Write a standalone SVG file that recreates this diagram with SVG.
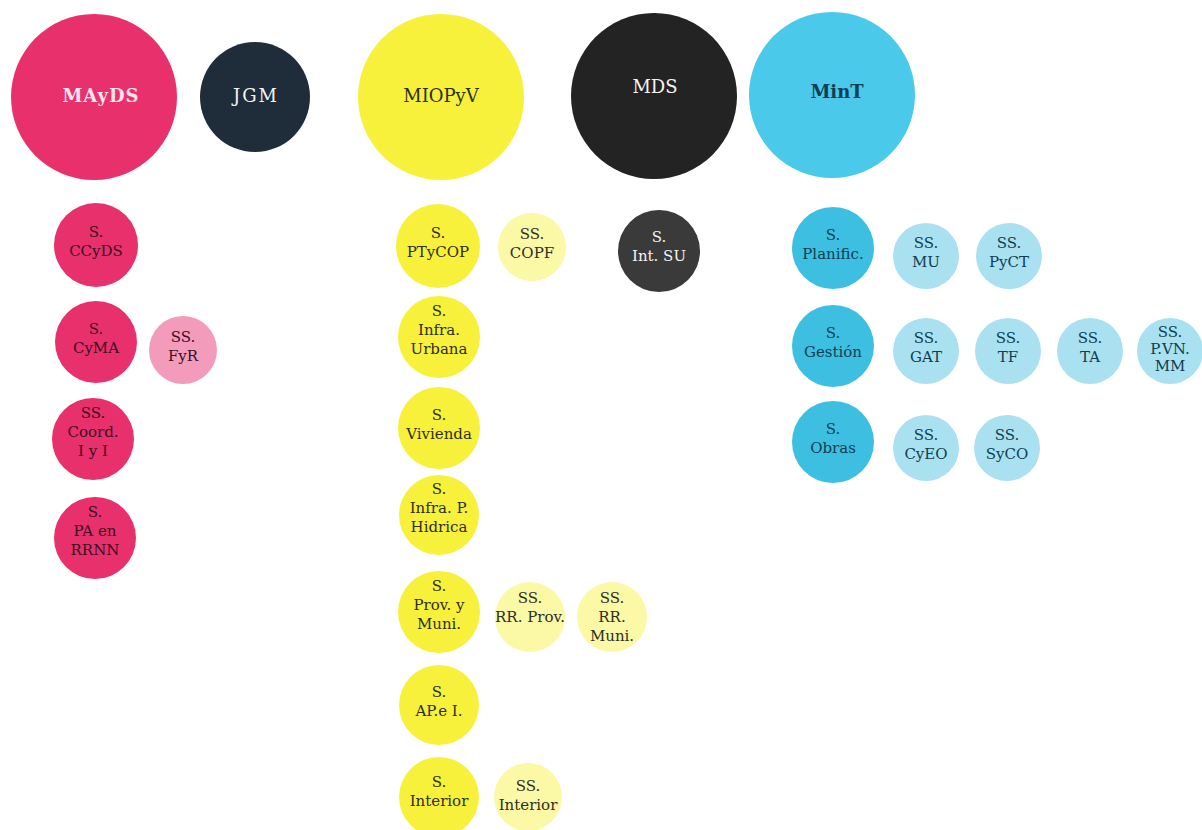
<svg xmlns="http://www.w3.org/2000/svg" width="1202" height="830" viewBox="0 0 1202 830">
<style>
text{font-family:"DejaVu Serif","Liberation Serif",serif;text-anchor:middle;}
.big{font-size:18px;}
.sm{font-size:15px;}
.mag{fill:#e8306d;}
.magL{fill:#f29bba;}
.yel{fill:#f8f13b;}
.yelL{fill:#fbf8a6;}
.blu{fill:#4bc9ea;}
.bluS{fill:#3dbfe2;}
.bluL{fill:#a9e1f1;}
.tMag{fill:#3c0d1f;}
.tYel{fill:#2e2e1e;}
.tBlu{fill:#0f3f50;}
.tW{fill:#f4f4f4;}
</style>
<rect width="1202" height="830" fill="#ffffff"/>
<g id="connectors"></g>

<g id="MAyDS"><circle class="mag" cx="94" cy="97" r="83"/><text class="big" x="101" y="102" font-weight="bold" letter-spacing="1" fill="#fbe4ec">MAyDS</text></g>
<g id="JGM"><circle cx="255" cy="97" r="55" fill="#1f2d3b"/><text class="big tW" x="256" y="102" letter-spacing="2">JGM</text></g>
<g id="MIOPyV"><circle class="yel" cx="441" cy="97" r="83"/><text class="big tYel" x="441" y="102">MIOPyV</text></g>
<g id="MDS"><circle cx="654" cy="96" r="83" fill="#232323"/><text class="big tW" x="655" y="93">MDS</text></g>
<g id="MinT"><circle class="blu" cx="832" cy="95" r="83"/><text class="big tBlu" x="837" y="98" font-weight="bold">MinT</text></g>

<g id="S-CCyDS"><circle class="mag" cx="96" cy="245" r="42"/><text class="sm tMag" x="96" y="237">S.<tspan x="96" dy="19">CCyDS</tspan></text></g>
<g id="S-CyMA"><circle class="mag" cx="96" cy="342" r="41"/><text class="sm tMag" x="96" y="334">S.<tspan x="96" dy="19">CyMA</tspan></text></g>
<g id="SS-FyR"><circle class="magL" cx="183" cy="350" r="34"/><text class="sm tMag" x="183" y="342">SS.<tspan x="183" dy="19">FyR</tspan></text></g>
<g id="SS-Coord"><circle class="mag" cx="93" cy="439" r="41"/><text class="sm tMag" x="93" y="418">SS.<tspan x="93" dy="19">Coord.</tspan><tspan x="93" dy="19">I y I</tspan></text></g>
<g id="S-PA"><circle class="mag" cx="95" cy="538" r="41"/><text class="sm tMag" x="95" y="517">S.<tspan x="95" dy="19">PA en</tspan><tspan x="95" dy="19">RRNN</tspan></text></g>

<g id="S-PTyCOP"><circle class="yel" cx="438" cy="246" r="42"/><text class="sm tYel" x="438" y="238">S.<tspan x="438" dy="19">PTyCOP</tspan></text></g>
<g id="SS-COPF"><circle class="yelL" cx="532" cy="247" r="34"/><text class="sm tYel" x="532" y="239">SS.<tspan x="532" dy="19">COPF</tspan></text></g>
<g id="S-InfraUrbana"><circle class="yel" cx="439" cy="337" r="41"/><text class="sm tYel" x="439" y="316">S.<tspan x="439" dy="19">Infra.</tspan><tspan x="439" dy="19">Urbana</tspan></text></g>
<g id="S-Vivienda"><circle class="yel" cx="439" cy="428" r="41"/><text class="sm tYel" x="439" y="420">S.<tspan x="439" dy="19">Vivienda</tspan></text></g>
<g id="S-InfraHidrica"><circle class="yel" cx="439" cy="515" r="40"/><text class="sm tYel" x="439" y="494">S.<tspan x="439" dy="19">Infra. P.</tspan><tspan x="439" dy="19">Hidrica</tspan></text></g>
<g id="S-ProvMuni"><circle class="yel" cx="439" cy="612" r="41"/><text class="sm tYel" x="439" y="591">S.<tspan x="439" dy="19">Prov. y</tspan><tspan x="439" dy="19">Muni.</tspan></text></g>
<g id="SS-RRProv"><circle class="yelL" cx="530" cy="617" r="35"/><text class="sm tYel" x="530" y="603" font-size="14">SS.<tspan x="530" dy="19">RR. Prov.</tspan></text></g>
<g id="SS-RRMuni"><circle class="yelL" cx="612" cy="617" r="35"/><text class="sm tYel" x="612" y="603">SS.<tspan x="612" dy="19">RR.</tspan><tspan x="612" dy="19">Muni.</tspan></text></g>
<g id="S-APeI"><circle class="yel" cx="439" cy="705" r="40"/><text class="sm tYel" x="439" y="697">S.<tspan x="439" dy="19">AP.e I.</tspan></text></g>
<g id="S-Interior"><circle class="yel" cx="439" cy="797" r="40"/><text class="sm tYel" x="439" y="787">S.<tspan x="439" dy="19">Interior</tspan></text></g>
<g id="SS-Interior"><circle class="yelL" cx="528" cy="797" r="34"/><text class="sm tYel" x="528" y="791">SS.<tspan x="528" dy="19">Interior</tspan></text></g>

<g id="S-IntSU"><circle cx="659" cy="251" r="41" fill="#3a3a3a"/><text class="sm tW" x="659" y="242">S.<tspan x="659" dy="19">Int. SU</tspan></text></g>

<g id="S-Planific"><circle class="bluS" cx="833" cy="248" r="41"/><text class="sm tBlu" x="833" y="240">S.<tspan x="833" dy="19">Planific.</tspan></text></g>
<g id="SS-MU"><circle class="bluL" cx="926" cy="256" r="33"/><text class="sm tBlu" x="926" y="248">SS.<tspan x="926" dy="19">MU</tspan></text></g>
<g id="SS-PyCT"><circle class="bluL" cx="1009" cy="256" r="33"/><text class="sm tBlu" x="1009" y="248">SS.<tspan x="1009" dy="19">PyCT</tspan></text></g>
<g id="S-Gestion"><circle class="bluS" cx="833" cy="346" r="41"/><text class="sm tBlu" x="833" y="338">S.<tspan x="833" dy="19">Gestión</tspan></text></g>
<g id="SS-GAT"><circle class="bluL" cx="926" cy="351" r="33"/><text class="sm tBlu" x="926" y="343">SS.<tspan x="926" dy="19">GAT</tspan></text></g>
<g id="SS-TF"><circle class="bluL" cx="1008" cy="351" r="33"/><text class="sm tBlu" x="1008" y="343">SS.<tspan x="1008" dy="19">TF</tspan></text></g>
<g id="SS-TA"><circle class="bluL" cx="1090" cy="351" r="33"/><text class="sm tBlu" x="1090" y="343">SS.<tspan x="1090" dy="19">TA</tspan></text></g>
<g id="SS-PVNMM"><circle class="bluL" cx="1170" cy="351" r="33"/><text class="sm tBlu" x="1170" y="337">SS.<tspan x="1170" dy="17">P.VN.</tspan><tspan x="1170" dy="17">MM</tspan></text></g>
<g id="S-Obras"><circle class="bluS" cx="833" cy="442" r="41"/><text class="sm tBlu" x="833" y="434">S.<tspan x="833" dy="19">Obras</tspan></text></g>
<g id="SS-CyEO"><circle class="bluL" cx="926" cy="448" r="33"/><text class="sm tBlu" x="926" y="440">SS.<tspan x="926" dy="19">CyEO</tspan></text></g>
<g id="SS-SyCO"><circle class="bluL" cx="1007" cy="448" r="33"/><text class="sm tBlu" x="1007" y="440">SS.<tspan x="1007" dy="19">SyCO</tspan></text></g>
</svg>
